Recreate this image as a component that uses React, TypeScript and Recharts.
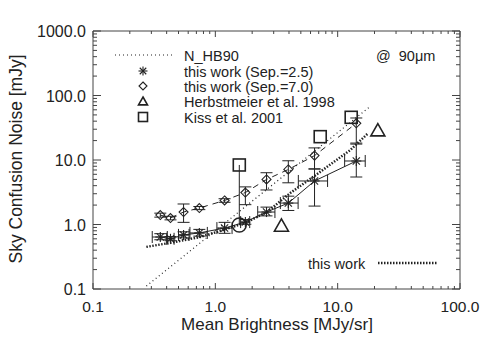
import React from 'react';
import {
  ScatterChart, Scatter, XAxis, YAxis, ErrorBar, ReferenceLine, Legend,
} from 'recharts';

// mean brightness [MJy/sr] of the sampled fields (shared by both separations)
const brightness = [0.355, 0.43, 0.55, 0.74, 1.19, 1.76, 2.62, 3.95, 6.47, 14.2];
const brightnessErr = [[0.05, 0.05], [0.03, 0.03], [0.05, 0.06], [0.12, 0.12], [0.16, 0.18], [0.15, 0.15], [0.4, 0.45], [0.55, 0.8], [1.7, 1.8], [2.8, 2.6]];

// sky confusion noise [mJy], this work
const sep25Noise = [0.64, 0.6, 0.69, 0.74, 0.88, 1.09, 1.56, 2.15, 4.73, 9.65];
const sep25NoiseErr = [[0.06, 0.08], [0.04, 0.05], [0.07, 0.08], [0.08, 0.1], [0.15, 0.2], [0.08, 0.1], [0.2, 0.3], [0.5, 0.6], [2.8, 2.5], [4.2, 8.0]];
const sep70Noise = [1.4, 1.26, 1.56, 1.8, 2.36, 3.13, 4.99, 7.13, 11.7, 37.1];
const sep70NoiseErr = [[0.1, 0.1], [0.08, 0.08], [0.48, 0.52], [0.1, 0.1], [0.15, 0.15], [1.1, 0.7], [1.56, 1.36], [2.7, 2.6], [4.4, 3.7], [18.8, 7.7]];

// model curves
const hb90X = [0.273, 18.2];
const hb90Y = [0.111, 66.3];
const fitX = [0.273, 0.43, 0.75, 1.16, 1.83, 2.67, 4.1, 6.34, 12.7, 17.8];
const fitY = [0.45, 0.52, 0.64, 0.82, 1.1, 1.58, 3.08, 5.51, 14.3, 26.2];

// literature values
const herbX = [3.47, 21.3];
const herbY = [0.95, 28.5];
const kissX = [1.57, 7.2, 12.9];
const kissY = [8.37, 23, 45.9];
const circleX = [1.57];
const circleY = [0.98];

const xMajor = [0.1, 1, 10, 100];
const yMajor = [0.1, 1, 10, 100, 1000];
const minorSteps = [2, 3, 4, 5, 6, 7, 8, 9];

const withMinor = (major: number[]) =>
  major.flatMap((m, i) => (i < major.length - 1 ? [m, ...minorSteps.map((s) => +(m * s).toPrecision(3))] : [m]));
const xTicks = withMinor(xMajor);
const yTicks = withMinor(yMajor);

const sep25Data = brightness.map((x, i) => ({ x, y: sep25Noise[i], ex: brightnessErr[i], ey: sep25NoiseErr[i] }));
const sep70Data = brightness.map((x, i) => ({ x, y: sep70Noise[i], ey: sep70NoiseErr[i] }));
const hb90Data = hb90X.map((x, i) => ({ x, y: hb90Y[i] }));
const fitData = fitX.map((x, i) => ({ x, y: fitY[i] }));
const herbData = herbX.map((x, i) => ({ x, y: herbY[i] }));
const kissData = kissX.map((x, i) => ({ x, y: kissY[i] }));
const circleData = circleX.map((x, i) => ({ x, y: circleY[i] }));
const kissLink = [{ x: kissX[0], y: kissY[0] }, { x: circleX[0], y: circleY[0] }];

const W = 488;
const H = 349;
const TOP = 31;
const BOTTOM = 289;
const LEFT = 93;
const RIGHT = 460;
const INK = '#222';
const AXIS = '#444';
const FONT = '"Liberation Sans", Arial, Helvetica, sans-serif';

const Asterisk = ({ cx, cy, r = 5 }: any) => {
  const d = r * 0.72;
  return (
    <g stroke={INK} strokeWidth={1.1}>
      <line x1={cx} y1={cy - r} x2={cx} y2={cy + r} />
      <line x1={cx - r} y1={cy} x2={cx + r} y2={cy} />
      <line x1={cx - d} y1={cy - d} x2={cx + d} y2={cy + d} />
      <line x1={cx - d} y1={cy + d} x2={cx + d} y2={cy - d} />
    </g>
  );
};
const Diamond = ({ cx, cy, r = 4.5 }: any) => (
  <polygon points={`${cx},${cy - r} ${cx + r},${cy} ${cx},${cy + r} ${cx - r},${cy}`} fill="none" stroke={INK} strokeWidth={1.1} />
);
const Triangle = ({ cx, cy, r = 7 }: any) => (
  <polygon points={`${cx},${cy - r} ${cx + r},${cy + r * 0.75} ${cx - r},${cy + r * 0.75}`} fill="none" stroke={INK} strokeWidth={1.6} />
);
const Square = ({ cx, cy, r = 6 }: any) => (
  <rect x={cx - r} y={cy - r} width={2 * r} height={2 * r} fill="none" stroke={INK} strokeWidth={1.6} />
);
const Circle = ({ cx, cy }: any) => <circle cx={cx} cy={cy} r={7} fill="none" stroke={INK} strokeWidth={1.4} />;
const NoMark = () => <g />;

const XTick = ({ x, y, payload }: any) => {
  const v = payload.value;
  const major = xMajor.includes(v);
  const len = major ? 6 : 3;
  return (
    <g>
      <line x1={x} x2={x} y1={y} y2={y - len} stroke={AXIS} />
      <line x1={x} x2={x} y1={TOP} y2={TOP + len} stroke={AXIS} />
      {major && (
        <text x={x} y={y + 22.5} textAnchor="middle" fontSize={15.5} fill={INK} fontFamily={FONT}>
          {v.toFixed(1)}
        </text>
      )}
    </g>
  );
};

const YTick = ({ x, y, payload }: any) => {
  const v = payload.value;
  const major = yMajor.includes(v);
  const len = major ? 8 : 4;
  return (
    <g>
      <line x1={x} x2={x + len} y1={y} y2={y} stroke={AXIS} />
      <line x1={RIGHT} x2={RIGHT - len} y1={y} y2={y} stroke={AXIS} />
      {major && (
        <text x={x - 7} y={y + 6} textAnchor="end" fontSize={16} fill={INK} fontFamily={FONT}>
          {v.toFixed(1)}
        </text>
      )}
    </g>
  );
};

const textStyle = { fontSize: 14.5, fill: INK, fontFamily: FONT };

const LegendOverlay = () => (
  <svg width={W} height={H} style={{ position: 'absolute', left: 0, top: 0, overflow: 'visible' }}>
    <line x1={115} x2={173} y1={55} y2={55} stroke={INK} strokeWidth={1.2} strokeDasharray="1 3" />
    <text x={184} y={60.5} {...textStyle}>N_HB90</text>
    <Asterisk cx={143} cy={71} r={4.5} />
    <text x={184} y={76.5} {...textStyle}>this work (Sep.=2.5)</text>
    <Diamond cx={143} cy={86} r={4} />
    <text x={184} y={91.5} {...textStyle}>this work (Sep.=7.0)</text>
    <Triangle cx={143} cy={101.5} r={4.5} />
    <text x={184} y={107} {...textStyle}>Herbstmeier et al. 1998</text>
    <Square cx={143} cy={117} r={4.5} />
    <text x={184} y={122.5} {...textStyle}>Kiss et al. 2001</text>
    <text x={376} y={60.5} {...textStyle} style={{ whiteSpace: 'pre' }}>@  90μm</text>
    <text x={308} y={268.5} {...textStyle}>this work</text>
    <line x1={378} x2={437} y1={263} y2={263} stroke={INK} strokeWidth={2.5} strokeDasharray="1.5 1.5" />
  </svg>
);

const App: React.FC = () => {
  return (
    <div style={{ position: 'absolute', left: 0, top: 0, width: W, height: H, background: '#fff', fontFamily: FONT }}>
      <ScatterChart width={W} height={H} margin={{ top: TOP, right: W - RIGHT, bottom: 0, left: 0 }}>
        <XAxis
          type="number" dataKey="x" scale="log" domain={[0.1, 100]} allowDataOverflow
          ticks={xTicks} interval={0} height={H - BOTTOM}
          tick={(p: any) => <XTick {...p} />} tickLine={false} tickSize={0} tickMargin={0}
          axisLine={{ stroke: AXIS }}
          label={{
            content: () => (
              <text x={277} y={330} textAnchor="middle" fontSize={17} fill={INK} fontFamily={FONT}>
                Mean Brightness [MJy/sr]
              </text>
            ),
          }}
        />
        <YAxis
          type="number" dataKey="y" scale="log" domain={[0.1, 1000]} allowDataOverflow
          ticks={yTicks} interval={0} width={LEFT}
          tick={(p: any) => <YTick {...p} />} tickLine={false} tickSize={0} tickMargin={0}
          axisLine={{ stroke: AXIS }}
          label={{
            content: () => (
              <text x={22} y={159} transform="rotate(-90 22 159)" textAnchor="middle" fontSize={17.5} fill={INK} fontFamily={FONT}>
                Sky Confusion Noise [mJy]
              </text>
            ),
          }}
        />
        <ReferenceLine y={1000} stroke={AXIS} />
        <ReferenceLine x={100} stroke={AXIS} />

        <Scatter data={hb90Data} shape={NoMark} line={{ stroke: INK, strokeWidth: 1.2, strokeDasharray: '1 3' }} lineType="joint" isAnimationActive={false} />
        <Scatter data={fitData} shape={NoMark} line={{ stroke: INK, strokeWidth: 2.5, strokeDasharray: '1.5 1.5' }} lineType="joint" isAnimationActive={false} />
        <Scatter data={kissLink} shape={NoMark} line={{ stroke: INK, strokeWidth: 1 }} lineType="joint" isAnimationActive={false} />

        <Scatter data={sep70Data} shape={(p: any) => <Diamond cx={p.cx} cy={p.cy} />} line={{ stroke: INK, strokeWidth: 1, strokeDasharray: '6 5' }} lineType="joint" isAnimationActive={false}>
          <ErrorBar dataKey="ey" direction="y" width={6} stroke={INK} strokeWidth={1} />
        </Scatter>
        <Scatter data={sep25Data} shape={(p: any) => <Asterisk cx={p.cx} cy={p.cy} />} line={{ stroke: INK, strokeWidth: 1 }} lineType="joint" isAnimationActive={false}>
          <ErrorBar dataKey="ey" direction="y" width={6} stroke={INK} strokeWidth={1} />
          <ErrorBar dataKey="ex" direction="x" width={6} stroke={INK} strokeWidth={1} />
        </Scatter>

        <Scatter data={herbData} shape={(p: any) => <Triangle cx={p.cx} cy={p.cy} />} isAnimationActive={false} />
        <Scatter data={kissData} shape={(p: any) => <Square cx={p.cx} cy={p.cy} />} isAnimationActive={false} />
        <Scatter data={circleData} shape={(p: any) => <Circle cx={p.cx} cy={p.cy} />} isAnimationActive={false} />

        <Legend
          content={() => <LegendOverlay />}
          layout="horizontal" verticalAlign="middle" align="center"
          wrapperStyle={{ left: 0, top: 0, width: W, height: H, margin: 0, pointerEvents: 'none' }}
        />
      </ScatterChart>
    </div>
  );
};

export default App;
